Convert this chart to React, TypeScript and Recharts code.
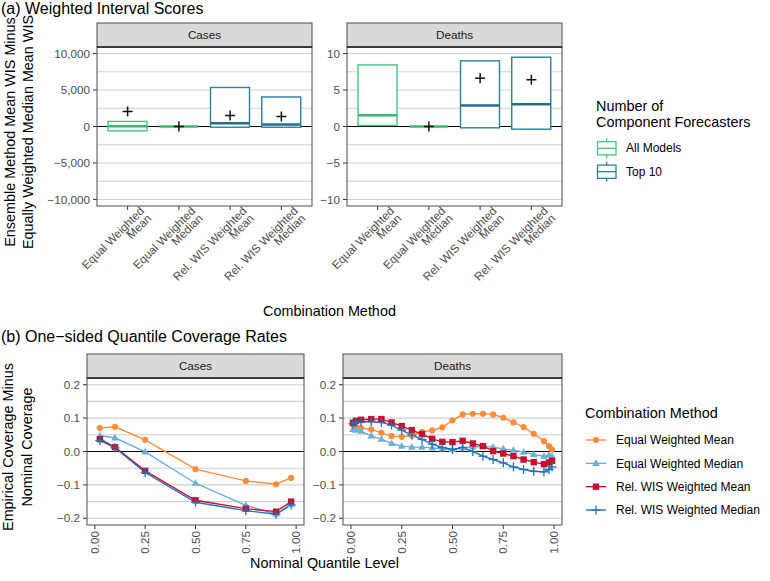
import React from 'react';
import { ComposedChart, LineChart, Bar, Scatter, Line, XAxis, YAxis, ReferenceLine } from 'recharts';

const FONT = '"Liberation Sans", Arial, Helvetica, sans-serif';
const TICK_TEXT = '#4D4D4D';
const GRID = '#CFCFCF';

// ---- (a) Weighted interval scores ----
const methods = ['Equal Weighted\nMean', 'Equal Weighted\nMedian', 'Rel. WIS Weighted\nMean', 'Rel. WIS Weighted\nMedian'];
const forecasterGroup = ['All Models', 'All Models', 'Top 10', 'Top 10'];
const groupNames = ['All Models', 'Top 10'];
const groupColors: Record<string, string> = { 'All Models': '#40C97C', 'Top 10': '#2E7F9B' };
const groupMedianColors: Record<string, string> = { 'All Models': '#38B86E', 'Top 10': '#236F8A' };

const casesBoxLow = [-600, 0, -100, -100];
const casesBoxHigh = [700, 0, 5350, 4050];
const casesMedian = [40, 0, 450, 280];
const casesMean = [2050, 0, 1500, 1370];

const deathsBoxLow = [0.14, 0, -0.18, -0.37];
const deathsBoxHigh = [8.45, 0, 9.0, 9.5];
const deathsMedian = [1.55, 0, 2.88, 3.05];
const deathsMean = [null, 0, 6.6, 6.4];

const wisCasesTicks = [-10000, -5000, 0, 5000, 10000];
const wisCasesGrid = [-10000, -7500, -5000, -2500, 2500, 5000, 7500, 10000];
const wisDeathsTicks = [-10, -5, 0, 5, 10];
const wisDeathsGrid = [-10, -7.5, -5, -2.5, 2.5, 5, 7.5, 10];

// ---- (b) One-sided quantile coverage ----
const seriesNames = ['Equal Weighted Mean', 'Equal Weighted Median', 'Rel. WIS Weighted Mean', 'Rel. WIS Weighted Median'];
const seriesKeys = ['ewMean', 'ewMedian', 'rwMean', 'rwMedian'];
const seriesColors = ['#FD8D3C', '#6BAED6', '#C8102E', '#2171B5'];

const casesLevels = [0.025, 0.1, 0.25, 0.5, 0.75, 0.9, 0.975];
const casesEwMean = [0.07, 0.074, 0.035, -0.053, -0.088, -0.098, -0.079];
const casesEwMedian = [0.047, 0.041, -0.001, -0.095, -0.161, -0.187, -0.158];
const casesRwMean = [0.037, 0.013, -0.058, -0.146, -0.171, -0.18, -0.15];
const casesRwMedian = [0.033, 0.011, -0.063, -0.152, -0.177, -0.188, -0.16];

const deathsLevels = [0.01, 0.025, 0.05, 0.1, 0.15, 0.2, 0.25, 0.3, 0.35, 0.4, 0.45, 0.5, 0.55, 0.6, 0.65, 0.7, 0.75, 0.8, 0.85, 0.9, 0.95, 0.975, 0.99];
const deathsEwMean = [0.08, 0.075, 0.07, 0.066, 0.056, 0.046, 0.044, 0.048, 0.059, 0.063, 0.072, 0.093, 0.111, 0.113, 0.113, 0.111, 0.101, 0.087, 0.073, 0.053, 0.031, 0.016, 0.006];
const deathsEwMedian = [0.066, 0.064, 0.061, 0.047, 0.037, 0.024, 0.016, 0.013, 0.013, 0.011, 0.008, 0.006, 0.011, 0.014, 0.015, 0.013, 0.008, 0.004, -0.002, -0.009, -0.014, -0.011, -0.014];
const deathsRwMean = [0.086, 0.092, 0.095, 0.097, 0.097, 0.087, 0.076, 0.064, 0.052, 0.038, 0.029, 0.028, 0.032, 0.024, 0.016, 0.001, -0.006, -0.014, -0.024, -0.032, -0.038, -0.033, -0.028];
const deathsRwMedian = [0.083, 0.087, 0.089, 0.09, 0.087, 0.079, 0.064, 0.049, 0.036, 0.022, 0.012, 0.006, 0.012, 0.0, -0.014, -0.024, -0.034, -0.046, -0.054, -0.059, -0.061, -0.054, -0.046];

const covTicks = [-0.2, -0.1, 0, 0.1, 0.2];
const covGrid = [-0.2, -0.15, -0.1, -0.05, 0.05, 0.1, 0.15, 0.2];
const levelTicks = [0, 0.25, 0.5, 0.75, 1];

const BOX_W = 39;

const minus = (s: string, v: number) => (v < 0 ? '\u2212' + s : s);
const fmtThousands = (v: number) => minus(Math.abs(v).toLocaleString('en-US'), v);
const fmtInt = (v: number) => minus(String(Math.abs(v)), v);
const fmtOne = (v: number) => minus(Math.abs(v).toFixed(1), v);
const fmtTwo = (v: number) => Math.abs(v).toFixed(2);

const wisRows = (low: number[], high: number[], median: number[], mean: (number | null)[]) =>
  methods.map((m, i) => ({ method: m, group: forecasterGroup[i], box: [low[i], high[i]], median: median[i], mean: mean[i] }));

const covRows = (levels: number[], cols: number[][]) =>
  levels.map((q, i) => {
    const row: Record<string, number> = { q };
    seriesKeys.forEach((k, j) => { row[k] = cols[j][i]; });
    return row;
  });

function BoxShape(props: any) {
  const { x, y, width, height, payload } = props;
  const h = Math.abs(height);
  if (!h) return <g />;
  return <rect x={x} y={Math.min(y, y + height)} width={width} height={h} fill="#fff" stroke={groupColors[payload.group]} strokeWidth={1.4} />;
}

function MedianShape(props: any) {
  const { cx, cy, payload } = props;
  return <line x1={cx - BOX_W / 2} x2={cx + BOX_W / 2} y1={cy} y2={cy} stroke={groupMedianColors[payload.group]} strokeWidth={2.6} />;
}

function MeanShape(props: any) {
  const { cx, cy, payload } = props;
  if (payload.mean == null) return <g />;
  return (
    <g stroke="#111" strokeWidth={1.5}>
      <line x1={cx - 5} x2={cx + 5} y1={cy} y2={cy} />
      <line x1={cx} x2={cx} y1={cy - 5} y2={cy + 5} />
    </g>
  );
}

function SlantTick(props: any) {
  const { x, y, payload } = props;
  const lines = String(payload.value).split('\n');
  return (
    <g transform={`translate(${x},${y}) rotate(-45)`}>
      <text textAnchor="end" fontSize={11.7} fill={TICK_TEXT} fontFamily={FONT}>
        {lines.map((l, i) => (
          <tspan key={i} x={11} dy={i === 0 ? 13.5 : 10.3}>{l}</tspan>
        ))}
      </text>
    </g>
  );
}

function VertTick(props: any) {
  const { x, y, payload } = props;
  return (
    <g transform={`translate(${x},${y + 2}) rotate(-90)`}>
      <text textAnchor="end" dy="0.35em" fontSize={11.7} fill={TICK_TEXT} fontFamily={FONT}>{fmtTwo(payload.value)}</text>
    </g>
  );
}

const gridLines = (grid: number[]) => [
  ...grid.map((v) => <ReferenceLine key={`g${v}`} y={v} stroke={GRID} strokeWidth={1.1} />),
  <ReferenceLine key="zero" y={0} stroke="#000" strokeWidth={1.2} />,
];

function WisPanel({ rows, width, yWidth, domain, ticks, grid, fmt }: any) {
  const margin = { top: 47, right: 18, bottom: 0, left: 0 };
  const xAxis = (under: boolean) => (
    <XAxis dataKey="method" type="category" padding={{ left: 5, right: 5 }} height={94} axisLine={false}
      tickSize={4} tickMargin={0} tickLine={under ? false : { stroke: '#333' }} tick={under ? false : <SlantTick />} interval={0} />
  );
  const yAxis = (under: boolean) => (
    <YAxis type="number" domain={domain} allowDataOverflow ticks={ticks} width={yWidth} axisLine={false} interval={0}
      tickSize={4} tickMargin={3} tickLine={under ? false : { stroke: '#333' }} tickFormatter={fmt}
      tick={under ? false : { fill: TICK_TEXT, fontSize: 11.7, fontFamily: FONT }} />
  );
  return (
    <div style={{ position: 'relative', width, height: 300 }}>
      <div style={{ position: 'absolute', left: 0, top: 0 }}>
        <ComposedChart width={width} height={300} data={rows} margin={margin}>
          {xAxis(true)}
          {yAxis(true)}
          {gridLines(grid)}
        </ComposedChart>
      </div>
      <div style={{ position: 'absolute', left: 0, top: 0 }}>
        <ComposedChart width={width} height={300} data={rows} margin={margin}>
          {xAxis(false)}
          {yAxis(false)}
          <Bar dataKey="box" barSize={BOX_W} shape={<BoxShape />} isAnimationActive={false} />
          <Scatter dataKey="median" shape={<MedianShape />} isAnimationActive={false} />
          <Scatter dataKey="mean" shape={<MeanShape />} isAnimationActive={false} />
        </ComposedChart>
      </div>
    </div>
  );
}

function marker(kind: number, color: string, cx: number, cy: number, key?: string) {
  if (kind === 0) return <circle key={key} cx={cx} cy={cy} r={3.1} fill={color} />;
  if (kind === 1) return <path key={key} d={`M${cx},${cy - 4} L${cx + 3.8},${cy + 2.6} L${cx - 3.8},${cy + 2.6} Z`} fill={color} />;
  if (kind === 2) return <rect key={key} x={cx - 3.2} y={cy - 3.2} width={6.4} height={6.4} fill={color} />;
  return (
    <g key={key} stroke={color} strokeWidth={1.3}>
      <line x1={cx - 4.5} x2={cx + 4.5} y1={cy} y2={cy} />
      <line x1={cx} x2={cx} y1={cy - 4.5} y2={cy + 4.5} />
    </g>
  );
}

function CovPanel({ rows, width, yWidth, right }: any) {
  const margin = { top: 48, right, bottom: 0, left: 0 };
  const xAxis = (under: boolean) => (
    <XAxis dataKey="q" type="number" domain={[-0.039, 1.039]} allowDataOverflow ticks={levelTicks} height={55}
      axisLine={false} tickSize={4} tickMargin={0} tickLine={under ? false : { stroke: '#333' }} tick={under ? false : <VertTick />} interval={0} />
  );
  const yAxis = (under: boolean) => (
    <YAxis type="number" domain={[-0.22, 0.22]} allowDataOverflow ticks={covTicks} width={yWidth} axisLine={false} interval={0}
      tickSize={4} tickMargin={3} tickLine={under ? false : { stroke: '#333' }} tickFormatter={fmtOne}
      tick={under ? false : { fill: TICK_TEXT, fontSize: 11.7, fontFamily: FONT }} />
  );
  return (
    <div style={{ position: 'relative', width, height: 250 }}>
      <div style={{ position: 'absolute', left: 0, top: 0 }}>
        <LineChart width={width} height={250} data={rows} margin={margin}>
          {xAxis(true)}
          {yAxis(true)}
          {gridLines(covGrid)}
        </LineChart>
      </div>
      <div style={{ position: 'absolute', left: 0, top: 0 }}>
        <LineChart width={width} height={250} data={rows} margin={margin}>
          {xAxis(false)}
          {yAxis(false)}
          {seriesKeys.map((k, j) => (
            <Line key={k} dataKey={k} stroke={seriesColors[j]} strokeWidth={1.4} isAnimationActive={false}
              dot={(p: any) => marker(j, seriesColors[j], p.cx, p.cy, `${k}-${p.index}`)} activeDot={false} />
          ))}
        </LineChart>
      </div>
    </div>
  );
}

function Strip({ x, y, w, label }: any) {
  return (
    <g>
      <rect x={x} y={y} width={w} height={24} fill="#D9D9D9" stroke="#4D4D4D" strokeWidth={1} />
      <line x1={x} x2={x + w} y1={y + 24} y2={y + 24} stroke="#222" strokeWidth={1.3} />
      <text x={x + w / 2} y={y + 15.5} textAnchor="middle" fontSize={11.7} fill="#1A1A1A">{label}</text>
    </g>
  );
}

function Overlay() {
  const topPanels = [{ x: 97, w: 215, label: 'Cases' }, { x: 347, w: 215, label: 'Deaths' }];
  const botPanels = [{ x: 87, w: 217, label: 'Cases' }, { x: 343, w: 219, label: 'Deaths' }];
  return (
    <svg width={770} height={581} style={{ position: 'absolute', left: 0, top: 0, pointerEvents: 'none' }} fontFamily={FONT}>
      <text x={1} y={14} fontSize={16} fill="#000">(a) Weighted Interval Scores</text>
      <text x={1} y={342} fontSize={16} fill="#000">(b) One{'\u2212'}sided Quantile Coverage Rates</text>

      {topPanels.map((p) => (
        <g key={'t' + p.label}>
          <rect x={p.x} y={47} width={p.w} height={159} fill="none" stroke="#4D4D4D" strokeWidth={1} />
          <Strip x={p.x} y={23} w={p.w} label={p.label} />
        </g>
      ))}
      {botPanels.map((p) => (
        <g key={'b' + p.label}>
          <rect x={p.x} y={378} width={p.w} height={147} fill="none" stroke="#4D4D4D" strokeWidth={1} />
          <Strip x={p.x} y={354} w={p.w} label={p.label} />
        </g>
      ))}

      <g fontSize={14.4} fill="#000">
        <text transform="translate(15,132) rotate(-90)" textAnchor="middle">Ensemble Method Mean WIS Minus</text>
        <text transform="translate(33,132) rotate(-90)" textAnchor="middle">Equally Weighted Median Mean WIS</text>
        <text transform="translate(13,447) rotate(-90)" textAnchor="middle">Empirical Coverage Minus</text>
        <text transform="translate(32,447) rotate(-90)" textAnchor="middle">Nominal Coverage</text>
        <text x={329.5} y={316} textAnchor="middle">Combination Method</text>
        <text x={324.5} y={568} textAnchor="middle">Nominal Quantile Level</text>

        <text x={596} y={111}>Number of</text>
        <text x={596} y={127}>Component Forecasters</text>
        <text x={585} y={418}>Combination Method</text>
      </g>

      {groupNames.map((g, i) => {
        const top = 138.3 + i * 23.4;
        const c = groupColors[g];
        return (
          <g key={g}>
            <line x1={606.7} x2={606.7} y1={top} y2={top + 20} stroke={c} strokeWidth={1.3} />
            <rect x={597.5} y={top + 3.4} width={18.5} height={13.2} fill="#fff" stroke={c} strokeWidth={1.3} />
            <line x1={597.5} x2={616} y1={top + 10} y2={top + 10} stroke={c} strokeWidth={1.3} />
            <text x={626} y={top + 14} fontSize={12} fill="#000">{g}</text>
          </g>
        );
      })}

      {seriesNames.map((s, j) => {
        const cy = 440 + j * 23.35;
        return (
          <g key={s}>
            <line x1={586} x2={606} y1={cy} y2={cy} stroke={seriesColors[j]} strokeWidth={1.4} />
            {marker(j, seriesColors[j], 596, cy)}
            <text x={616} y={cy + 4.3} fontSize={12} fill="#000">{s}</text>
          </g>
        );
      })}
    </svg>
  );
}

export default function App() {
  return (
    <div style={{ position: 'absolute', left: 0, top: 0, width: 770, height: 581, background: '#fff', overflow: 'hidden', fontFamily: FONT }}>
      <div style={{ position: 'absolute', left: 0, top: 0 }}>
        <WisPanel rows={wisRows(casesBoxLow, casesBoxHigh, casesMedian, casesMean)} width={330} yWidth={97}
          domain={[-10900, 10900]} ticks={wisCasesTicks} grid={wisCasesGrid} fmt={fmtThousands} />
      </div>
      <div style={{ position: 'absolute', left: 300, top: 0 }}>
        <WisPanel rows={wisRows(deathsBoxLow, deathsBoxHigh, deathsMedian, deathsMean)} width={280} yWidth={47}
          domain={[-10.9, 10.9]} ticks={wisDeathsTicks} grid={wisDeathsGrid} fmt={fmtInt} />
      </div>
      <div style={{ position: 'absolute', left: 0, top: 330 }}>
        <CovPanel rows={covRows(casesLevels, [casesEwMean, casesEwMedian, casesRwMean, casesRwMedian])} width={330} yWidth={87} right={26} />
      </div>
      <div style={{ position: 'absolute', left: 300, top: 330 }}>
        <CovPanel rows={covRows(deathsLevels, [deathsEwMean, deathsEwMedian, deathsRwMean, deathsRwMedian])} width={280} yWidth={43} right={18} />
      </div>
      <Overlay />
    </div>
  );
}
